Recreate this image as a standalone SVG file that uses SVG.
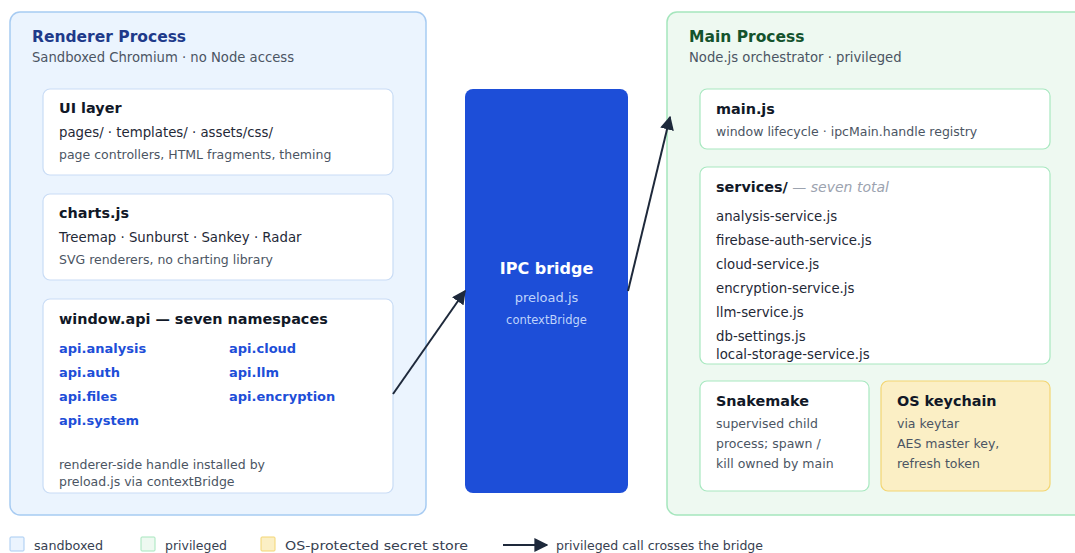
<svg xmlns="http://www.w3.org/2000/svg" width="1075" height="553" viewBox="0 0 1075 553">
  <defs>
    <marker id="arrow-lg" viewBox="0 0 10 10" refX="9" refY="5" markerWidth="14" markerHeight="14" markerUnits="userSpaceOnUse" orient="auto">
      <path d="M0,0 L10,5 L0,10 z" fill="#1e293b"/>
    </marker>
    <style>
      text { font-family: "DejaVu Sans", "Liberation Sans", sans-serif; }
      .zone-r { fill: #ebf4fe; stroke: #a7cbf2; stroke-width: 1.5; }
      .zone-m { fill: #eef9f1; stroke: #a5e6bd; stroke-width: 1.5; }
      .card-r { fill: #ffffff; stroke: #c9dcf5; stroke-width: 1.2; }
      .card-m { fill: #ffffff; stroke: #a8e8c0; stroke-width: 1.2; }
      .card-k { fill: #fbefc5; stroke: #f3d572; stroke-width: 1.2; }
      .zt-r { font-size: 15.5px; font-weight: bold; fill: #1e3a8a; }
      .zt-m { font-size: 15.5px; font-weight: bold; fill: #14532d; }
      .zsub { font-size: 13.2px; fill: #4b5563; }
      .ct { font-size: 14.4px; font-weight: bold; fill: #111827; }
      .cl { font-size: 13.3px; fill: #1f2937; }
      .cs { font-size: 12.5px; fill: #4b5563; }
      .api { font-size: 13px; font-weight: bold; fill: #1d4ed8; }
      .muted { font-size: 14px; font-style: italic; font-weight: normal; fill: #9ca3af; }
      .bt { font-size: 16px; font-weight: bold; fill: #ffffff; }
      .bs { font-size: 13px; fill: #bfd3fb; }
      .bs2 { font-size: 11.5px; fill: #bfd3fb; }
      .lg { font-size: 13px; fill: #374151; }
      .conn { stroke: #1e293b; stroke-width: 2; fill: none; }
    </style>
  </defs>

  <rect width="1075" height="553" fill="#ffffff"/>

  <!-- Renderer process zone -->
  <g id="renderer-process">
    <rect class="zone-r" x="10" y="12" width="416" height="503" rx="10"/>
    <text class="zt-r" x="32" y="42">Renderer Process</text>
    <text class="zsub" x="32" y="62">Sandboxed Chromium · no Node access</text>
  </g>

  <g id="ui-layer">
    <rect class="card-r" x="43" y="89" width="350" height="86" rx="7"/>
    <text class="ct" x="59" y="113">UI layer</text>
    <text class="cl" x="59" y="137">pages/ · templates/ · assets/css/</text>
    <text class="cs" x="59" y="159">page controllers, HTML fragments, theming</text>
  </g>

  <g id="charts-js">
    <rect class="card-r" x="43" y="194" width="350" height="86" rx="7"/>
    <text class="ct" x="59" y="218">charts.js</text>
    <text class="cl" x="59" y="242">Treemap · Sunburst · Sankey · Radar</text>
    <text class="cs" x="59" y="264">SVG renderers, no charting library</text>
  </g>

  <g id="window-api">
    <rect class="card-r" x="43" y="299" width="350" height="194" rx="7"/>
    <text class="ct" x="59" y="324">window.api — seven namespaces</text>
    <text class="api" x="59" y="353">api.analysis</text>
    <text class="api" x="59" y="377">api.auth</text>
    <text class="api" x="59" y="401">api.files</text>
    <text class="api" x="59" y="425">api.system</text>
    <text class="api" x="229" y="353">api.cloud</text>
    <text class="api" x="229" y="377">api.llm</text>
    <text class="api" x="229" y="401">api.encryption</text>
    <text class="cs" x="59" y="469">renderer-side handle installed by</text>
    <text class="cs" x="59" y="486">preload.js via contextBridge</text>
  </g>

  <!-- IPC bridge -->
  <g id="ipc-bridge">
    <rect x="465" y="89" width="163" height="404" rx="8" fill="#1d4ed8"/>
    <text class="bt" x="546.5" y="274" text-anchor="middle">IPC bridge</text>
    <text class="bs" x="546.5" y="302" text-anchor="middle">preload.js</text>
    <text class="bs2" x="546.5" y="324" text-anchor="middle">contextBridge</text>
  </g>

  <!-- Main process zone -->
  <g id="main-process">
    <rect class="zone-m" x="667" y="12" width="430" height="503" rx="10"/>
    <text class="zt-m" x="689" y="42">Main Process</text>
    <text class="zsub" x="689" y="62">Node.js orchestrator · privileged</text>
  </g>

  <g id="main-js">
    <rect class="card-m" x="700" y="89" width="350" height="60" rx="7"/>
    <text class="ct" x="716" y="114">main.js</text>
    <text class="cs" x="716" y="136">window lifecycle · ipcMain.handle registry</text>
  </g>

  <g id="services">
    <rect class="card-m" x="700" y="167" width="350" height="197" rx="7"/>
    <text x="716" y="192"><tspan class="ct">services/</tspan><tspan class="muted"> — seven total</tspan></text>
    <text class="cl" x="716" y="221">analysis-service.js</text>
    <text class="cl" x="716" y="245">firebase-auth-service.js</text>
    <text class="cl" x="716" y="269">cloud-service.js</text>
    <text class="cl" x="716" y="293">encryption-service.js</text>
    <text class="cl" x="716" y="317">llm-service.js</text>
    <text class="cl" x="716" y="341">db-settings.js</text>
    <text class="cl" x="716" y="359">local-storage-service.js</text>
  </g>

  <g id="snakemake">
    <rect class="card-m" x="700" y="381" width="169" height="110" rx="7"/>
    <text class="ct" x="716" y="406">Snakemake</text>
    <text class="cs" x="716" y="428">supervised child</text>
    <text class="cs" x="716" y="448">process; spawn /</text>
    <text class="cs" x="716" y="468">kill owned by main</text>
  </g>

  <g id="os-keychain">
    <rect class="card-k" x="881" y="381" width="169" height="110" rx="7"/>
    <text class="ct" x="897" y="406">OS keychain</text>
    <text class="cs" x="897" y="428">via keytar</text>
    <text class="cs" x="897" y="448">AES master key,</text>
    <text class="cs" x="897" y="468">refresh token</text>
  </g>

  <!-- Connectors -->
  <g id="connectors">
    <line class="conn" x1="393" y1="394" x2="465" y2="291" marker-end="url(#arrow-lg)"/>
    <line class="conn" x1="628" y1="291" x2="670" y2="117" marker-end="url(#arrow-lg)"/>
  </g>

  <!-- Legend -->
  <g id="legend">
    <rect x="10" y="537" width="14" height="14" rx="1" fill="#ebf4fe" stroke="#a7cbf2"/>
    <text class="lg" x="34" y="550" textLength="69" lengthAdjust="spacingAndGlyphs">sandboxed</text>
    <rect x="141" y="537" width="14" height="14" rx="1" fill="#eef9f1" stroke="#a5e6bd"/>
    <text class="lg" x="165" y="550" textLength="62" lengthAdjust="spacingAndGlyphs">privileged</text>
    <rect x="261" y="537" width="14" height="14" rx="1" fill="#fbefc5" stroke="#f3d572"/>
    <text class="lg" x="285" y="550" textLength="183" lengthAdjust="spacingAndGlyphs">OS-protected secret store</text>
    <line class="conn" x1="503" y1="545" x2="547" y2="545" marker-end="url(#arrow-lg)"/>
    <text class="lg" x="556" y="550" textLength="207" lengthAdjust="spacingAndGlyphs">privileged call crosses the bridge</text>
  </g>
</svg>
